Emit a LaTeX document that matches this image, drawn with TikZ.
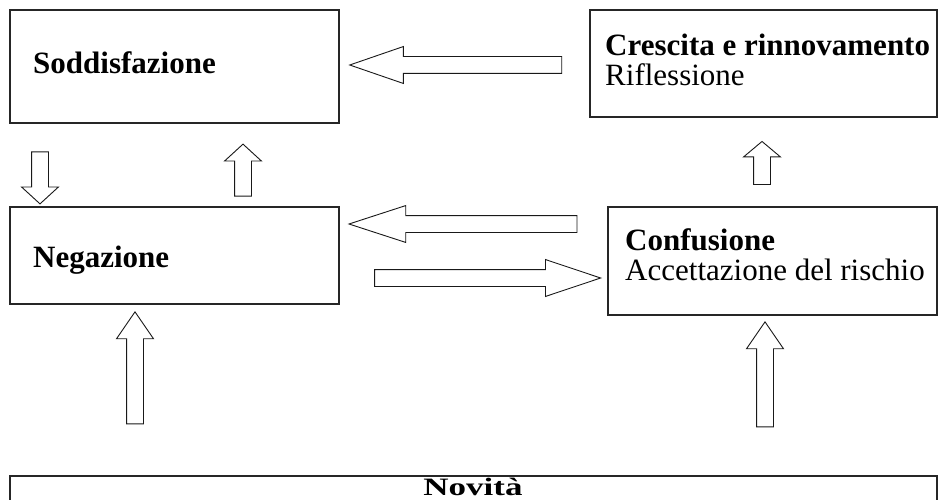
\documentclass[tikz,border=0pt]{standalone}
\usepackage{fontspec}
\setmainfont{Liberation Serif}
\usetikzlibrary{shapes.arrows}

\tikzset{
  stageline/.style={line width=1.3pt, draw=black!85},
  stagetext/.style={anchor=west, align=left, inner sep=0pt,
    font=\fontsize{31}{30}\selectfont},
  hollowarrow/.style={single arrow, draw, line width=0.9pt, draw=black!90,
    inner xsep=0pt, inner ysep=8pt, single arrow head extend=10pt},
}

\begin{document}
\begin{tikzpicture}[x=1pt, y=-1pt]
  \useasboundingbox (0, 0) rectangle (947, 500);
  % the five stages
  \draw[stageline] (10, 10) rectangle (339, 123) node [pos=.5] (sodd) {}
                   (590, 10) rectangle (937, 117) node [pos=.5] (cresc) {}
                   (10, 207) rectangle (339, 304) node [pos=.5] (neg) {}
                   (608, 207) rectangle (937, 315) node [pos=.5] (conf) {}
                   (10, 476) rectangle (937, 560) node [pos=.5] (nov) {};
  \node[stagetext] (soddtxt) at (33, 63) {\textbf{Soddisfazione}};
  \node[stagetext] (cresctxt) at (605, 60)
    {\textbf{Crescita e rinnovamento}\\Riflessione};
  \node[stagetext] (negtxt) at (33, 260) {\textbf{Negazione}};
  \node[stagetext] (conftxt) at (625, 255)
    {\textbf{Confusione}\\Accettazione del rischio};
  \node[font=\bfseries\fontsize{25}{25}\selectfont, anchor=base, inner sep=0pt,
    xscale=1.4, transform shape] (novtxt) at (473, 495) {Novità};

  % block arrows between the stages
  \node[hollowarrow, minimum height=212pt, single arrow tip angle=38, rotate=180]
    (a1) at (468, 65) {};
  \node[hollowarrow, minimum height=228pt, single arrow tip angle=36, rotate=180]
    (a2) at (476, 224) {};
  \node[hollowarrow, minimum height=226pt, single arrow tip angle=37]
    (a3) at (475, 278) {};
  \node[hollowarrow, minimum height=52pt, single arrow tip angle=95, rotate=-90]
    (a4) at (40, 174) {};
  \node[hollowarrow, minimum height=52pt, single arrow tip angle=95, rotate=90]
    (a5) at (243, 174) {};
  \node[hollowarrow, minimum height=43pt, single arrow tip angle=100, rotate=90]
    (a6) at (762, 166.5) {};
  \node[hollowarrow, minimum height=112pt, single arrow tip angle=69, rotate=90]
    (a7) at (135, 374) {};
  \node[hollowarrow, minimum height=105pt, single arrow tip angle=69, rotate=90]
    (a8) at (765, 380.5) {};
\end{tikzpicture}
\end{document}
